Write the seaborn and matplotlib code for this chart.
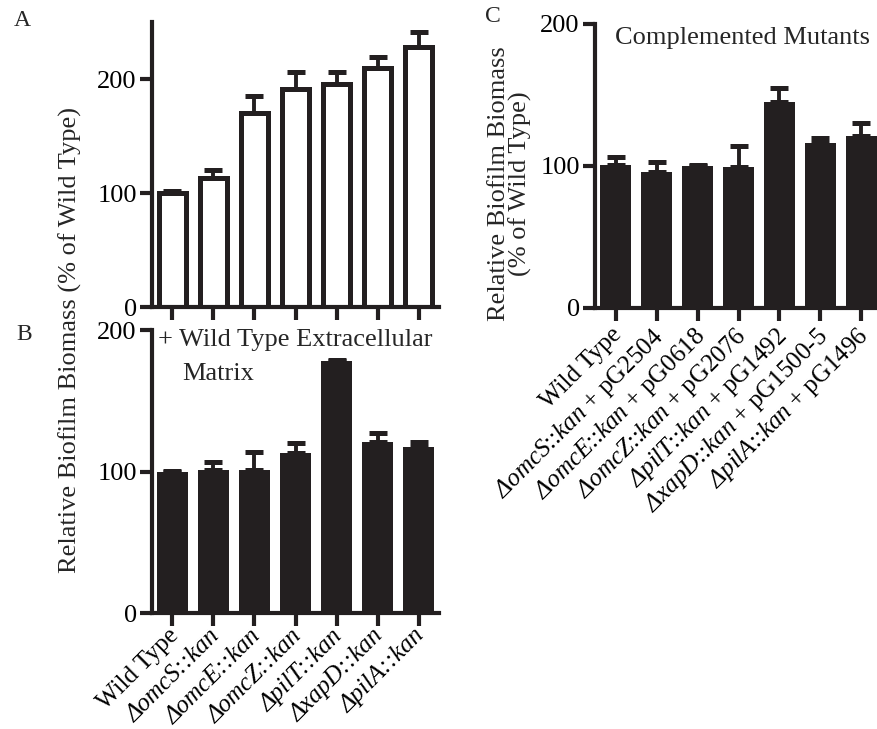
import matplotlib
matplotlib.use("Agg")
import matplotlib.pyplot as plt
from matplotlib.transforms import ScaledTranslation
import seaborn as sns

# Values (% of wild type biofilm)
strains = ["Wild Type", "ΔomcS::kan", "ΔomcE::kan", "ΔomcZ::kan",
           "ΔpilT::kan", "ΔxapD::kan", "ΔpilA::kan"]
mutant_math = ["Wild Type",
               r"$\mathit{ΔomcS}$::$\mathit{kan}$",
               r"$\mathit{ΔomcE}$::$\mathit{kan}$",
               r"$\mathit{ΔomcZ}$::$\mathit{kan}$",
               r"$\mathit{ΔpilT}$::$\mathit{kan}$",
               r"$\mathit{ΔxapD}$::$\mathit{kan}$",
               r"$\mathit{ΔpilA}$::$\mathit{kan}$"]
plasmids = ["", "pG2504", "pG0618", "pG2076", "pG1492", "pG1500-5", "pG1496"]

biomass_a = [100, 113, 170, 191, 196, 210, 228]
err_a = [2, 7, 15, 15, 10, 9, 13]

biomass_b = [100, 101, 101, 113, 178, 121, 117]
err_b = [0.5, 6, 13, 7, 0.5, 6, 4]

biomass_c = [101, 96, 100, 99, 145, 116, 121]
err_c = [5, 7, 1, 15, 10, 4, 9]

complemented_labels = ["Wild Type"] + [
    f"{m} + {p}" for m, p in zip(mutant_math[1:], plasmids[1:])
]

ink = "#231f20"

sns.set_theme(style="ticks")
plt.rcParams["font.family"] = ["Liberation Serif", "DejaVu Serif"]
plt.rcParams["mathtext.fontset"] = "custom"
# italic Greek capitals fall back to the rm slot, so make it italic as well
plt.rcParams["mathtext.rm"] = "Liberation Serif:italic"
plt.rcParams["mathtext.it"] = "Liberation Serif:italic"


def draw_panel(ax, values, errs, filled, ymax, yticks):
    if filled:
        sns.barplot(x=strains, y=values, ax=ax, color=ink, saturation=1,
                    width=0.77, errorbar=None, edgecolor=ink, linewidth=0)
    else:
        sns.barplot(x=strains, y=values, ax=ax, color="white", saturation=1,
                    width=0.65, errorbar=None, edgecolor=ink, linewidth=3.6)
    lower = [0] * len(values)
    ax.errorbar(range(len(values)), values, yerr=[lower, errs], fmt="none",
                ecolor=ink, elinewidth=2.8, capsize=6.5, capthick=3.6,
                zorder=5)
    ax.set_xlim(-0.5, 6.5)
    ax.set_ylim(0, ymax)
    ax.set_yticks(yticks)
    ax.set_ylabel("")
    ax.set_xlabel("")
    for side in ["top", "right"]:
        ax.spines[side].set_visible(False)
    for side in ["left", "bottom"]:
        ax.spines[side].set_linewidth(3)
        ax.spines[side].set_color(ink)
    ax.tick_params(axis="both", length=9, width=3, color=ink,
                   labelsize=19, labelcolor="black", pad=2)


def nudge(labels, dx_px, dy_px):
    offset = ScaledTranslation(dx_px / 100, dy_px / 100, fig.dpi_scale_trans)
    for lbl in labels:
        lbl.set_transform(lbl.get_transform() + offset)


fig = plt.figure(figsize=(8.78, 7.29), dpi=100)
W, H = 878, 729
ax_a = fig.add_axes([152 / W, 1 - 307 / H, 287 / W, 285 / H])
ax_b = fig.add_axes([152 / W, 1 - 613 / H, 287 / W, 283 / H])
ax_c = fig.add_axes([595 / W, 1 - 308 / H, 287 / W, 284 / H])

draw_panel(ax_a, biomass_a, err_a, False, 250, [0, 100, 200])
ax_a.set_xticks(range(7))
ax_a.set_xticklabels([""] * 7)

draw_panel(ax_b, biomass_b, err_b, True, 200, [0, 100, 200])
ax_b.set_xticks(range(7))
ax_b.tick_params(axis="x", pad=3)
ax_b.set_xticklabels(strains, rotation=45, ha="right", fontsize=18,
                     rotation_mode="anchor", va="top")
# mutant names are set in italics
for lbl in ax_b.get_xticklabels()[1:]:
    lbl.set_fontstyle("italic")
nudge(ax_b.get_xticklabels(), -5, 5)
ax_b.text(0.022, 0.965, "+ Wild Type Extracellular", transform=ax_b.transAxes,
          fontsize=19, va="center", ha="left")
ax_b.text(0.105, 0.845, "Matrix", transform=ax_b.transAxes,
          fontsize=19, va="center", ha="left")

draw_panel(ax_c, biomass_c, err_c, True, 200, [0, 100, 200])
ax_c.set_xticks(range(7))
ax_c.tick_params(axis="x", pad=3)
ax_c.set_xticklabels(complemented_labels, rotation=45, ha="right", fontsize=18,
                     rotation_mode="anchor", va="top")
nudge(ax_c.get_xticklabels(), -5, 1)
ax_c.text(0.515, 0.95, "Complemented Mutants", transform=ax_c.transAxes,
          fontsize=19, va="center", ha="center")

fig.text(70 / W, 1 - 340 / H, "Relative Biofilm Biomass (% of Wild Type)",
         rotation=90, fontsize=19, ha="center", va="center")
fig.text(510 / W, 1 - 184 / H, "Relative Biofilm Biomass\n(% of Wild Type)",
         rotation=90, fontsize=19, ha="center", va="center",
         multialignment="center", linespacing=0.95)

fig.text(22 / W, 1 - 20 / H, "A", fontsize=17, ha="center", va="center")
fig.text(24 / W, 1 - 335 / H, "B", fontsize=17, ha="center", va="center")
fig.text(493 / W, 1 - 17 / H, "C", fontsize=17, ha="center", va="center")

fig.savefig("out.png", dpi=100)
